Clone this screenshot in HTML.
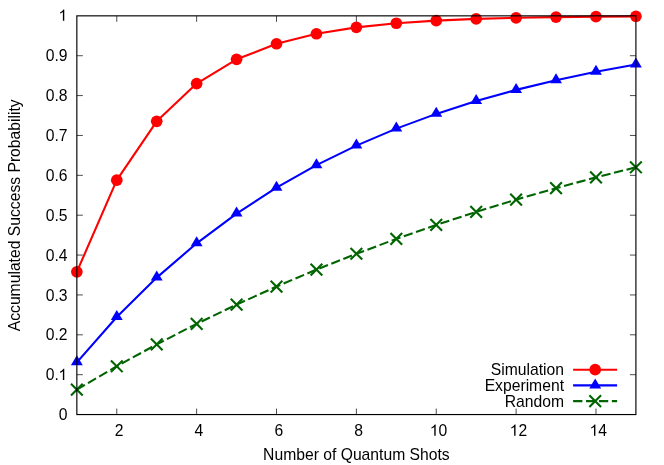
<!DOCTYPE html>
<html><head><meta charset="utf-8"><title>Accumulated Success Probability</title>
<style>
html,body{margin:0;padding:0;background:#fff;}
body{width:664px;height:465px;overflow:hidden;}
svg{display:block;}
text{font-family:"Liberation Sans",sans-serif;font-size:15.7px;fill:#000;}
.t{will-change:transform;}
</style></head><body>
<svg width="664" height="465" viewBox="0 0 664 465">
<rect x="0" y="0" width="664" height="465" fill="#ffffff"/>
<path d="M76.85 374.68h6.0M635.90 374.68h-6.0M76.85 334.81h6.0M635.90 334.81h-6.0M76.85 294.94h6.0M635.90 294.94h-6.0M76.85 255.07h6.0M635.90 255.07h-6.0M76.85 215.20h6.0M635.90 215.20h-6.0M76.85 175.33h6.0M635.90 175.33h-6.0M76.85 135.46h6.0M635.90 135.46h-6.0M76.85 95.59h6.0M635.90 95.59h-6.0M76.85 55.72h6.0M635.90 55.72h-6.0M116.78 414.55v-6.0M116.78 15.85v6.0M196.65 414.55v-6.0M196.65 15.85v6.0M276.51 414.55v-6.0M276.51 15.85v6.0M356.38 414.55v-6.0M356.38 15.85v6.0M436.24 414.55v-6.0M436.24 15.85v6.0M516.10 414.55v-6.0M516.10 15.85v6.0M595.97 414.55v-6.0M595.97 15.85v6.0" stroke="#000" stroke-width="0.7" fill="none"/>
<polyline points="76.85,271.82 116.78,180.18 156.71,121.35 196.65,83.58 236.58,59.33 276.51,43.77 316.44,33.77 356.38,27.36 396.31,23.24 436.24,20.59 476.17,18.89 516.10,17.80 556.04,17.10 595.97,16.66 635.90,16.37" fill="none" stroke="#ff0000" stroke-width="2.1" stroke-linejoin="round"/>
<circle cx="76.85" cy="271.82" r="5.85" fill="#ff0000"/><circle cx="116.78" cy="180.18" r="5.85" fill="#ff0000"/><circle cx="156.71" cy="121.35" r="5.85" fill="#ff0000"/><circle cx="196.65" cy="83.58" r="5.85" fill="#ff0000"/><circle cx="236.58" cy="59.33" r="5.85" fill="#ff0000"/><circle cx="276.51" cy="43.77" r="5.85" fill="#ff0000"/><circle cx="316.44" cy="33.77" r="5.85" fill="#ff0000"/><circle cx="356.38" cy="27.36" r="5.85" fill="#ff0000"/><circle cx="396.31" cy="23.24" r="5.85" fill="#ff0000"/><circle cx="436.24" cy="20.59" r="5.85" fill="#ff0000"/><circle cx="476.17" cy="18.89" r="5.85" fill="#ff0000"/><circle cx="516.10" cy="17.80" r="5.85" fill="#ff0000"/><circle cx="556.04" cy="17.10" r="5.85" fill="#ff0000"/><circle cx="595.97" cy="16.66" r="5.85" fill="#ff0000"/><circle cx="635.90" cy="16.37" r="5.85" fill="#ff0000"/>
<polyline points="76.85,362.36 116.78,317.00 156.71,277.58 196.65,243.32 236.58,213.54 276.51,187.67 316.44,165.18 356.38,145.63 396.31,128.64 436.24,113.88 476.17,101.04 516.10,89.89 556.04,80.20 595.97,71.78 635.90,64.46" fill="none" stroke="#0000ff" stroke-width="2.1" stroke-linejoin="round"/>
<path d="M76.85 355.34L70.90 365.34L82.80 365.34Z" fill="#0000ff"/><path d="M116.78 309.99L110.84 319.99L122.73 319.99Z" fill="#0000ff"/><path d="M156.71 270.56L150.77 280.56L162.66 280.56Z" fill="#0000ff"/><path d="M196.65 236.30L190.70 246.30L202.59 246.30Z" fill="#0000ff"/><path d="M236.58 206.53L230.63 216.53L242.53 216.53Z" fill="#0000ff"/><path d="M276.51 180.65L270.56 190.65L282.46 190.65Z" fill="#0000ff"/><path d="M316.44 158.16L310.50 168.16L322.39 168.16Z" fill="#0000ff"/><path d="M356.38 138.61L350.43 148.61L362.32 148.61Z" fill="#0000ff"/><path d="M396.31 121.62L390.36 131.62L402.25 131.62Z" fill="#0000ff"/><path d="M436.24 106.86L430.29 116.86L442.19 116.86Z" fill="#0000ff"/><path d="M476.17 94.03L470.22 104.03L482.12 104.03Z" fill="#0000ff"/><path d="M516.10 82.88L510.16 92.88L522.05 92.88Z" fill="#0000ff"/><path d="M556.04 73.18L550.09 83.18L561.98 83.18Z" fill="#0000ff"/><path d="M595.97 64.76L590.02 74.76L601.91 74.76Z" fill="#0000ff"/><path d="M635.90 57.44L629.95 67.44L641.85 67.44Z" fill="#0000ff"/>
<polyline points="76.85,389.63 116.78,366.27 156.71,344.37 196.65,323.84 236.58,304.59 276.51,286.54 316.44,269.62 356.38,253.76 396.31,238.89 436.24,224.95 476.17,211.88 516.10,199.63 556.04,188.15 595.97,177.38 635.90,167.28" fill="none" stroke="#006400" stroke-width="2.1" stroke-dasharray="9.3 3.62" stroke-linejoin="round"/>
<path d="M71.00 383.78L82.70 395.48M71.00 395.48L82.70 383.78" stroke="#006400" stroke-width="2.1" fill="none"/><path d="M110.93 360.42L122.63 372.12M110.93 372.12L122.63 360.42" stroke="#006400" stroke-width="2.1" fill="none"/><path d="M150.86 338.52L162.56 350.22M150.86 350.22L162.56 338.52" stroke="#006400" stroke-width="2.1" fill="none"/><path d="M190.80 317.99L202.50 329.69M190.80 329.69L202.50 317.99" stroke="#006400" stroke-width="2.1" fill="none"/><path d="M230.73 298.74L242.43 310.44M230.73 310.44L242.43 298.74" stroke="#006400" stroke-width="2.1" fill="none"/><path d="M270.66 280.69L282.36 292.39M270.66 292.39L282.36 280.69" stroke="#006400" stroke-width="2.1" fill="none"/><path d="M310.59 263.77L322.29 275.47M310.59 275.47L322.29 263.77" stroke="#006400" stroke-width="2.1" fill="none"/><path d="M350.52 247.91L362.23 259.61M350.52 259.61L362.23 247.91" stroke="#006400" stroke-width="2.1" fill="none"/><path d="M390.46 233.04L402.16 244.74M390.46 244.74L402.16 233.04" stroke="#006400" stroke-width="2.1" fill="none"/><path d="M430.39 219.10L442.09 230.80M430.39 230.80L442.09 219.10" stroke="#006400" stroke-width="2.1" fill="none"/><path d="M470.32 206.03L482.02 217.73M470.32 217.73L482.02 206.03" stroke="#006400" stroke-width="2.1" fill="none"/><path d="M510.25 193.78L521.95 205.48M510.25 205.48L521.95 193.78" stroke="#006400" stroke-width="2.1" fill="none"/><path d="M550.19 182.30L561.89 194.00M550.19 194.00L561.89 182.30" stroke="#006400" stroke-width="2.1" fill="none"/><path d="M590.12 171.53L601.82 183.23M590.12 183.23L601.82 171.53" stroke="#006400" stroke-width="2.1" fill="none"/><path d="M630.05 161.43L641.75 173.13M630.05 173.13L641.75 161.43" stroke="#006400" stroke-width="2.1" fill="none"/>
<path d="M573.1 369.7H617.1" stroke="#ff0000" stroke-width="2.1"/><circle cx="595.2" cy="369.7" r="5.85" fill="#ff0000"/>
<path d="M573.1 385.4H617.1" stroke="#0000ff" stroke-width="2.1"/><path d="M595.20 378.38L589.25 388.38L601.15 388.38Z" fill="#0000ff"/>
<path d="M573.1 401.1H617.1" stroke="#006400" stroke-width="2.1" stroke-dasharray="9.3 3.62"/><path d="M589.35 395.25L601.05 406.95M589.35 406.95L601.05 395.25" stroke="#006400" stroke-width="2.1" fill="none"/>
<rect x="76.85" y="15.85" width="559.05" height="398.70" fill="none" stroke="#000" stroke-width="1.15"/>
<g class="t">
<text x="564.0" y="375.30" text-anchor="end">Simulation</text>
<text x="564.0" y="390.70" text-anchor="end">Experiment</text>
<text x="564.0" y="406.60" text-anchor="end">Random</text>
<text x="67.6" y="420" text-anchor="end">0</text><text x="58.87" y="380" text-anchor="end">0.</text><path transform="translate(58.42 380.00) scale(0.007666 -0.007666)" d="M763 0H583V1147Q518 1085 412.5 1023T223 930V1104Q374 1175 487 1276T647 1472H763Z" fill="#000"/><text x="67.6" y="340" text-anchor="end">0.2</text><text x="67.6" y="301" text-anchor="end">0.3</text><text x="67.6" y="261" text-anchor="end">0.4</text><text x="67.6" y="221" text-anchor="end">0.5</text><text x="67.6" y="181" text-anchor="end">0.6</text><text x="67.6" y="141" text-anchor="end">0.7</text><text x="67.6" y="101" text-anchor="end">0.8</text><text x="67.6" y="61" text-anchor="end">0.9</text><path transform="translate(58.42 20.70) scale(0.007666 -0.007666)" d="M763 0H583V1147Q518 1085 412.5 1023T223 930V1104Q374 1175 487 1276T647 1472H763Z" fill="#000"/>
<text x="119.08" y="435.7" text-anchor="middle">2</text><text x="198.95" y="435.7" text-anchor="middle">4</text><text x="278.81" y="435.7" text-anchor="middle">6</text><text x="358.68" y="435.7" text-anchor="middle">8</text><path transform="translate(429.81 435.70) scale(0.007666 -0.007666)" d="M763 0H583V1147Q518 1085 412.5 1023T223 930V1104Q374 1175 487 1276T647 1472H763Z" fill="#000"/><text x="438.54" y="435.7" text-anchor="start">0</text><path transform="translate(509.67 435.70) scale(0.007666 -0.007666)" d="M763 0H583V1147Q518 1085 412.5 1023T223 930V1104Q374 1175 487 1276T647 1472H763Z" fill="#000"/><text x="518.40" y="435.7" text-anchor="start">2</text><path transform="translate(589.54 435.70) scale(0.007666 -0.007666)" d="M763 0H583V1147Q518 1085 412.5 1023T223 930V1104Q374 1175 487 1276T647 1472H763Z" fill="#000"/><text x="598.27" y="435.7" text-anchor="start">4</text>
<text x="356.4" y="459.8" text-anchor="middle">Number of Quantum Shots</text>
<text transform="translate(19.6 215.3) rotate(-90)" text-anchor="middle">Accumulated Success Probability</text>
</g>
</svg></body></html>
